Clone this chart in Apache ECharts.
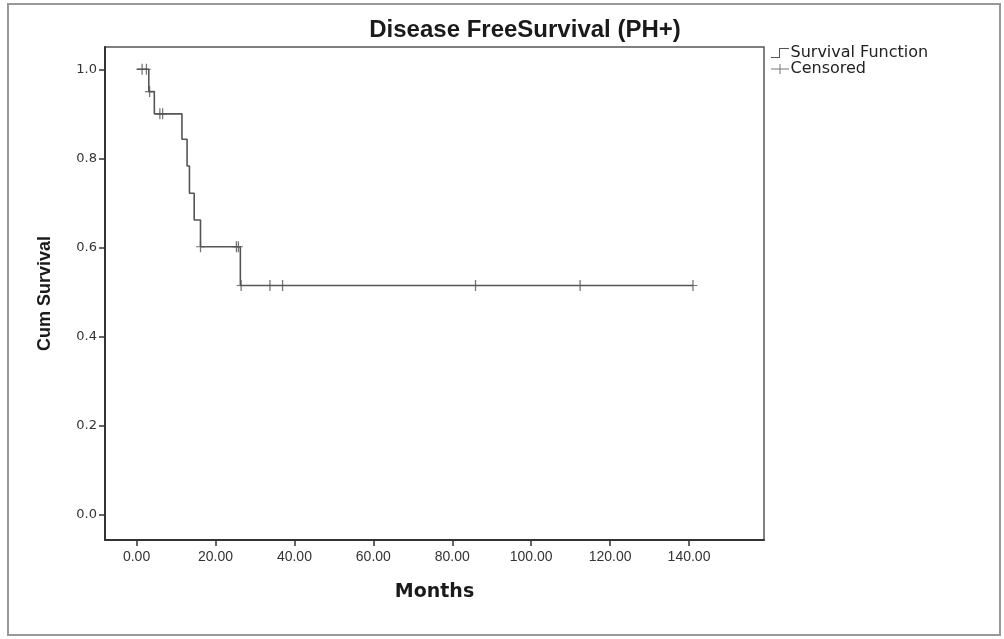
<!DOCTYPE html>
<html>
<head>
<meta charset="utf-8">
<script src="https://cdn.jsdelivr.net/npm/echarts@6/dist/echarts.min.js"></script>
<style>
html,body{margin:0;padding:0;background:#fff;}
#chart{width:1004px;height:639px;}
</style>
</head>
<body>
<div id="chart"></div>
<script>
// Kaplan-Meier steps: time of each event and survival just after it
const eventTimes = [0, 3.1, 4.5, 11.5, 12.8, 13.4, 14.6, 16.2, 26.3];
const survivalValues = [1.0, 0.95, 0.90, 0.843, 0.783, 0.722, 0.662, 0.602, 0.515];
// Censored observations
const censoredTimes = [1.4, 2.5, 3.3, 5.9, 6.6, 16.2, 25.3, 25.8, 26.5, 33.8, 37.0, 85.9, 112.4, 141.0];
const censoredSurvival = [1.0, 1.0, 0.95, 0.90, 0.90, 0.602, 0.602, 0.602, 0.515, 0.515, 0.515, 0.515, 0.515, 0.515];
// Tick labels
const xTicks = [0, 20, 40, 60, 80, 100, 120, 140];
const yTicks = [0, 0.2, 0.4, 0.6, 0.8, 1.0];

const lastTime = Math.max(...censoredTimes);
const stepData = eventTimes.map((t, i) => [t, survivalValues[i]]);
stepData.push([lastTime, survivalValues[survivalValues.length - 1]]);
const censData = censoredTimes.map((t, i) => [t, censoredSurvival[i]]);

const plusPath = 'path://M4,0 L5,0 L5,4.5 L8,4.5 L8,5.5 L5,5.5 L5,10 L4,10 L4,5.5 L1,5.5 L1,4.5 L4,4.5 Z';
const stepIcon = 'path://M0,9 L8,9 L8,0 L18,0 L18,1 L9,1 L9,10 L0,10 Z';
const crossIcon = 'path://M0,4.5 L8.5,4.5 L8.5,0 L9.5,0 L9.5,4.5 L18,4.5 L18,5.5 L9.5,5.5 L9.5,10 L8.5,10 L8.5,5.5 L0,5.5 Z';

const chart = echarts.init(document.getElementById('chart'));
chart.setOption({
  backgroundColor: '#ffffff',
  animation: false,
  title: {
    text: 'Disease FreeSurvival (PH+)',
    left: 520, top: 13, textAlign: 'center',
    textStyle: {fontFamily: 'Liberation Sans', fontWeight: 'bold', fontSize: 24, color: '#1a1a1a'}
  },
  legend: {
    orient: 'vertical', left: 766, top: 40, itemGap: 0,
    itemWidth: 19, itemHeight: 10,
    textStyle: {fontFamily: 'DejaVu Sans', fontSize: 16, lineHeight: 16, color: '#222', padding: [0,0,0,-4]},
    data: [
      {name: 'Survival Function', icon: stepIcon, itemStyle: {color: '#555'}},
      {name: 'Censored', icon: crossIcon, itemStyle: {color: '#555'}}
    ]
  },
  graphic: [{
    type: 'rect', shape: {x: 8, y: 4, width: 992, height: 631},
    style: {fill: 'none', stroke: '#999', lineWidth: 2}, silent: true, z: -1
  }],
  grid: {left: 105, right: 240, top: 47, bottom: 99, show: true, borderColor: '#555', borderWidth: 1.5},
  xAxis: {
    type: 'value', min: -8, max: 159,
    name: 'Months', nameLocation: 'middle', nameGap: 43,
    nameTextStyle: {fontFamily: 'DejaVu Sans', fontWeight: 'bold', fontSize: 19, color: '#1a1a1a'},
    splitLine: {show: false},
    axisLine: {show: true, onZero: false, lineStyle: {color: '#333', width: 2}},
    axisTick: {show: true, customValues: xTicks, length: 6, lineStyle: {color: '#333', width: 1.5}},
    axisLabel: {customValues: xTicks, margin: 10, fontFamily: 'Liberation Sans', fontSize: 14, color: '#333',
      formatter: v => v.toFixed(2)}
  },
  yAxis: {
    type: 'value', min: -0.056, max: 1.05,
    name: 'Cum Survival', nameLocation: 'middle', nameGap: 51, nameRotate: 90,
    nameTextStyle: {fontFamily: 'Liberation Sans', fontWeight: 'bold', fontSize: 18, color: '#1a1a1a'},
    splitLine: {show: false},
    axisLine: {show: true, onZero: false, lineStyle: {color: '#333', width: 2}},
    axisTick: {show: true, customValues: yTicks, length: 6, lineStyle: {color: '#333', width: 1.5}},
    axisLabel: {customValues: yTicks, margin: 8, fontFamily: 'DejaVu Sans', fontSize: 13, color: '#333',
      formatter: v => v.toFixed(1)}
  },
  series: [
    {
      name: 'Survival Function', type: 'line', step: 'end', data: stepData,
      showSymbol: false, symbol: 'none',
      lineStyle: {color: '#555', width: 1.6}, itemStyle: {color: '#555'}
    },
    {
      name: 'Censored', type: 'scatter', data: censData,
      symbol: plusPath, symbolSize: [9, 11],
      itemStyle: {color: '#555'}
    }
  ]
});
</script>
</body>
</html>
